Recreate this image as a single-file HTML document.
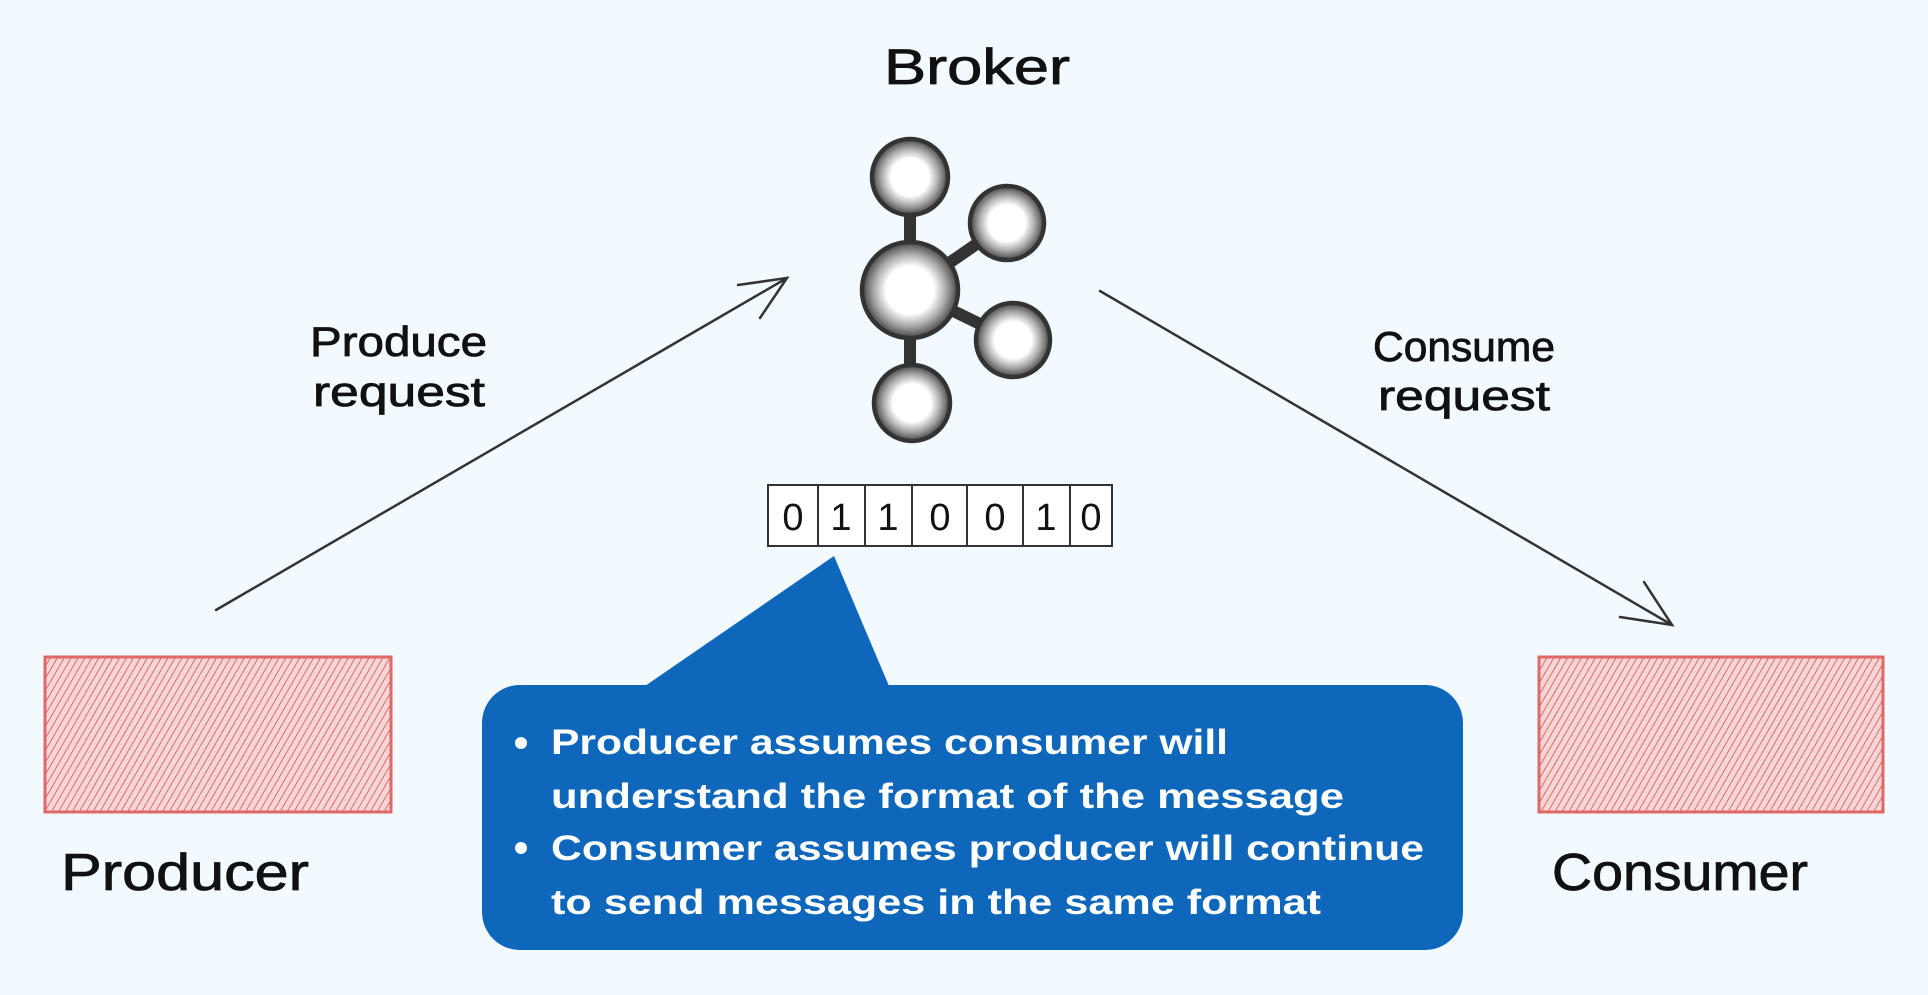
<!DOCTYPE html>
<html><head><meta charset="utf-8"><style>
html,body{margin:0;padding:0;background:#f3faff;}
svg{display:block;}
</style></head><body>
<svg width="1928" height="995" viewBox="0 0 1928 995" xmlns="http://www.w3.org/2000/svg">
<defs>
<pattern id="h" patternUnits="userSpaceOnUse" width="6" height="6" patternTransform="rotate(30)">
<rect width="6" height="6" fill="#f5d6d6"/>
<line x1="0" y1="0" x2="0" y2="6" stroke="#e06a6a" stroke-width="2"/>
</pattern>
<radialGradient id="c" cx="50%" cy="50%" r="50%">
<stop offset="50%" stop-color="#fff"/><stop offset="75%" stop-color="#aaa"/><stop offset="100%" stop-color="#444"/>
</radialGradient>
</defs>
<rect width="1928" height="995" fill="#f3faff"/>
<g font-family="Liberation Sans, sans-serif" fill="#111" stroke="#111" stroke-width="0.8">
<text x="977" y="84" font-size="50" text-anchor="middle" textLength="186" lengthAdjust="spacingAndGlyphs">Broker</text>
<text x="310" y="356" font-size="42" textLength="177" lengthAdjust="spacingAndGlyphs">Produce</text>
<text x="313" y="406" font-size="42" textLength="172" lengthAdjust="spacingAndGlyphs">request</text>
<text x="1373" y="361" font-size="42" textLength="182" lengthAdjust="spacingAndGlyphs">Consume</text>
<text x="1378" y="410" font-size="42" textLength="172" lengthAdjust="spacingAndGlyphs">request</text>
<text x="61" y="890" font-size="52" textLength="248" lengthAdjust="spacingAndGlyphs">Producer</text>
<text x="1552" y="890" font-size="52" textLength="256" lengthAdjust="spacingAndGlyphs">Consumer</text>
</g>
<!-- molecule -->
<g stroke="#333" stroke-width="4.5">
<line x1="910" y1="177" x2="910" y2="403" stroke-width="12"/>
<line x1="910" y1="290" x2="1007" y2="223" stroke-width="12"/>
<line x1="910" y1="290" x2="1013" y2="340" stroke-width="12"/>
<circle cx="910" cy="177" r="38" fill="url(#c)"/>
<circle cx="1007" cy="223" r="37" fill="url(#c)"/>
<circle cx="910" cy="290" r="48" fill="url(#c)"/>
<circle cx="1013" cy="340" r="37" fill="url(#c)"/>
<circle cx="912" cy="403" r="38" fill="url(#c)"/>
</g>
<!-- binary -->
<g stroke="#333" stroke-width="2" fill="none">
<rect x="768" y="485" width="344" height="61" fill="#fff"/>
<line x1="818" y1="485" x2="818" y2="546"/><line x1="865" y1="485" x2="865" y2="546"/>
<line x1="912" y1="485" x2="912" y2="546"/><line x1="967" y1="485" x2="967" y2="546"/>
<line x1="1023" y1="485" x2="1023" y2="546"/><line x1="1070" y1="485" x2="1070" y2="546"/>
</g>
<g font-family="Liberation Sans, sans-serif" font-size="38" fill="#111" text-anchor="middle">
<text x="793" y="530">0</text><text x="841" y="530">1</text><text x="888" y="530">1</text>
<text x="940" y="530">0</text><text x="995" y="530">0</text><text x="1046" y="530">1</text><text x="1091" y="530">0</text>
</g>
<!-- arrows -->
<g stroke="#333" stroke-width="2.5" fill="none" stroke-linecap="round">
<line x1="216" y1="610" x2="787" y2="278"/>
<polyline points="738,285 787,278 760,318"/>
<line x1="1100" y1="291" x2="1672" y2="625"/>
<polyline points="1620,617 1672,625 1644,582"/>
</g>
<!-- boxes -->
<rect x="45" y="657" width="346" height="155" fill="url(#h)" stroke="#e06868" stroke-width="3"/>
<rect x="1539" y="657" width="344" height="155" fill="url(#h)" stroke="#e06868" stroke-width="3"/>
<!-- callout -->
<path d="M645,686 L834,556 L889,686 Z" fill="#0f67bb"/>
<rect x="482" y="685" width="981" height="265" rx="38" fill="#0f67bb"/>
<g font-family="Liberation Sans, sans-serif" font-weight="bold" font-size="35" fill="#fff">
<circle cx="521" cy="743" r="6"/><circle cx="521" cy="848" r="6"/>
<text x="551" y="754" textLength="677" lengthAdjust="spacingAndGlyphs">Producer assumes consumer will</text>
<text x="551" y="808" textLength="793" lengthAdjust="spacingAndGlyphs">understand the format of the message</text>
<text x="551" y="860" textLength="873" lengthAdjust="spacingAndGlyphs">Consumer assumes producer will continue</text>
<text x="551" y="914" textLength="770" lengthAdjust="spacingAndGlyphs">to send messages in the same format</text>
</g>
</svg>
</body></html>
